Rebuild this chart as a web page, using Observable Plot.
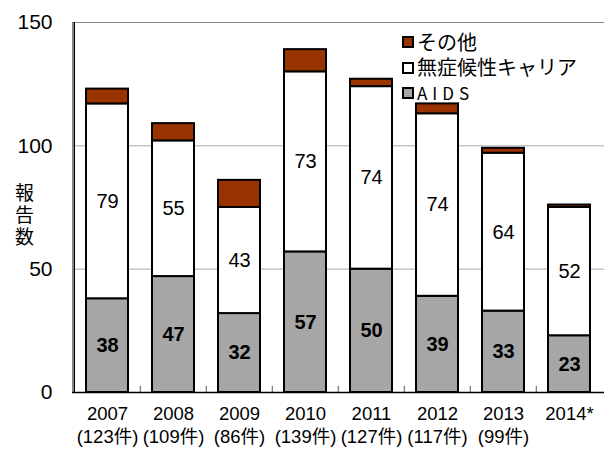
<!DOCTYPE html>
<html><head><meta charset="utf-8">
<script src="https://cdn.jsdelivr.net/npm/d3@7"></script>
<script src="https://cdn.jsdelivr.net/npm/@observablehq/plot@0.6"></script>
<style>
body{margin:0;background:#fff;font-family:"Liberation Sans",Arial,sans-serif;}
#wrap{position:relative;width:604px;height:456px;}
.lgt{position:absolute;left:417px;font-family:"Noto Sans CJK JP",sans-serif;font-size:20px;line-height:25px;color:#000;white-space:pre;}
.sw{position:absolute;left:402px;width:8px;height:8px;border:2px solid #000;}
</style></head>
<body><div id="wrap"></div>
<script>
const years = ["2007","2008","2009","2010","2011","2012","2013","2014*"];
const totalLabels = ["(123件)","(109件)","(86件)","(139件)","(127件)","(117件)","(99件)",""];
const aids = [38,47,32,57,50,39,33,23];
const asymptomatic = [79,55,43,73,74,74,64,52];
const other = [6,7,11,9,3,4,2,1];
const seriesNames = ["AIDS","無症候性キャリア","その他"];
const seriesColors = ["#a6a6a6","#ffffff","#993300"];
const yTicks = [0,50,100,150];
const yLabel = "報告数";

const rows = [];
years.forEach((y,i)=>{
  rows.push({year:y, series:seriesNames[0], value:aids[i]});
  rows.push({year:y, series:seriesNames[1], value:asymptomatic[i]});
  rows.push({year:y, series:seriesNames[2], value:other[i]});
});
const aidsLabels = years.map((y,i)=>({year:y, v:aids[i]/2, t:String(aids[i])}));
const asymLabels = years.map((y,i)=>({year:y, v:aids[i]+asymptomatic[i]/2, t:String(asymptomatic[i])}));
const xLabels = years.map((y,i)=>({year:y, t: totalLabels[i] ? y+"\n"+totalLabels[i] : y}));
const sans = '"Liberation Sans",Arial,sans-serif';
const sansCJK = '"Liberation Sans",Arial,"Noto Sans CJK JP",sans-serif';

const chart = Plot.plot({
  width:604, height:456,
  marginLeft:72, marginRight:0, marginTop:22, marginBottom:64,
  style:{fontFamily:sans, background:"#fff", fontSize:"20px"},
  x:{domain:years, paddingInner:0.36, paddingOuter:0.18, axis:null},
  y:{domain:[0,150], ticks:yTicks, tickSize:0, tickPadding:20, label:null},
  color:{domain:seriesNames, range:seriesColors},
  marks:[
    Plot.ruleY([50,100], {stroke:"#aaa", strokeWidth:1}),
    Plot.frame({stroke:"#888", strokeWidth:1}),
    Plot.barY(rows, {x:"year", y:"value", fill:"series", stroke:"#000", strokeWidth:2}),
    Plot.ruleX(years.slice(1), {x:d=>d, y1:0, y2:2.5, dx:-33.25, stroke:"#555"}),
    Plot.ruleY([0], {stroke:"#000", strokeWidth:1.5}),
    Plot.ruleX([years[0]], {dx:-33.25, y1:0, y2:150, stroke:"#000", strokeWidth:1.5}),
    Plot.text(asymLabels, {x:"year", y:"v", text:"t", fontSize:20, fill:"#000", fontFamily:sans}),
    Plot.text(aidsLabels, {x:"year", y:"v", text:"t", fontSize:20, fontWeight:"bold", fill:"#000", fontFamily:sans}),
    Plot.text(xLabels, {x:"year", text:"t", frameAnchor:"bottom", lineAnchor:"top", dy:11, lineHeight:1.25, fontSize:18.5, fill:"#000", fontFamily:sansCJK}),
    Plot.text([yLabel], {frameAnchor:"left", y:[74], text:d=>d, dx:-48, fontSize:19, fill:"#000", fontFamily:'"Noto Sans CJK JP",sans-serif', className:"ylab"})
  ]
});
d3.select(chart).selectAll("g[aria-label='y-axis tick label']").attr("font-size",21).attr("font-family",sans);
d3.select(chart).selectAll(".ylab text")
  .style("writing-mode","vertical-rl").style("letter-spacing","3px")
  .attr("text-anchor","middle").attr("dy",null).attr("dominant-baseline","central");
const wrap = document.getElementById("wrap");
wrap.appendChild(chart);

const legendItems = [
  {name:"その他", color:seriesColors[2]},
  {name:"無症候性キャリア", color:seriesColors[1]},
  {name:"AIDS", color:seriesColors[0]}
];
legendItems.forEach((it,i)=>{
  const s = document.createElement("span"); s.className="sw"; s.style.background=it.color;
  s.style.top = (36 + i*25.5) + "px";
  wrap.appendChild(s);
});
const t1 = document.createElement("div"); t1.className="lgt"; t1.style.top="29px";
t1.textContent = legendItems[0].name + "\n" + legendItems[1].name;
wrap.appendChild(t1);
const t2 = document.createElement("div"); t2.className="lgt"; t2.style.top="80px";
t2.style.fontSize="17px"; t2.style.letterSpacing="5px";
t2.textContent = legendItems[2].name;
wrap.appendChild(t2);
</script></body></html>
